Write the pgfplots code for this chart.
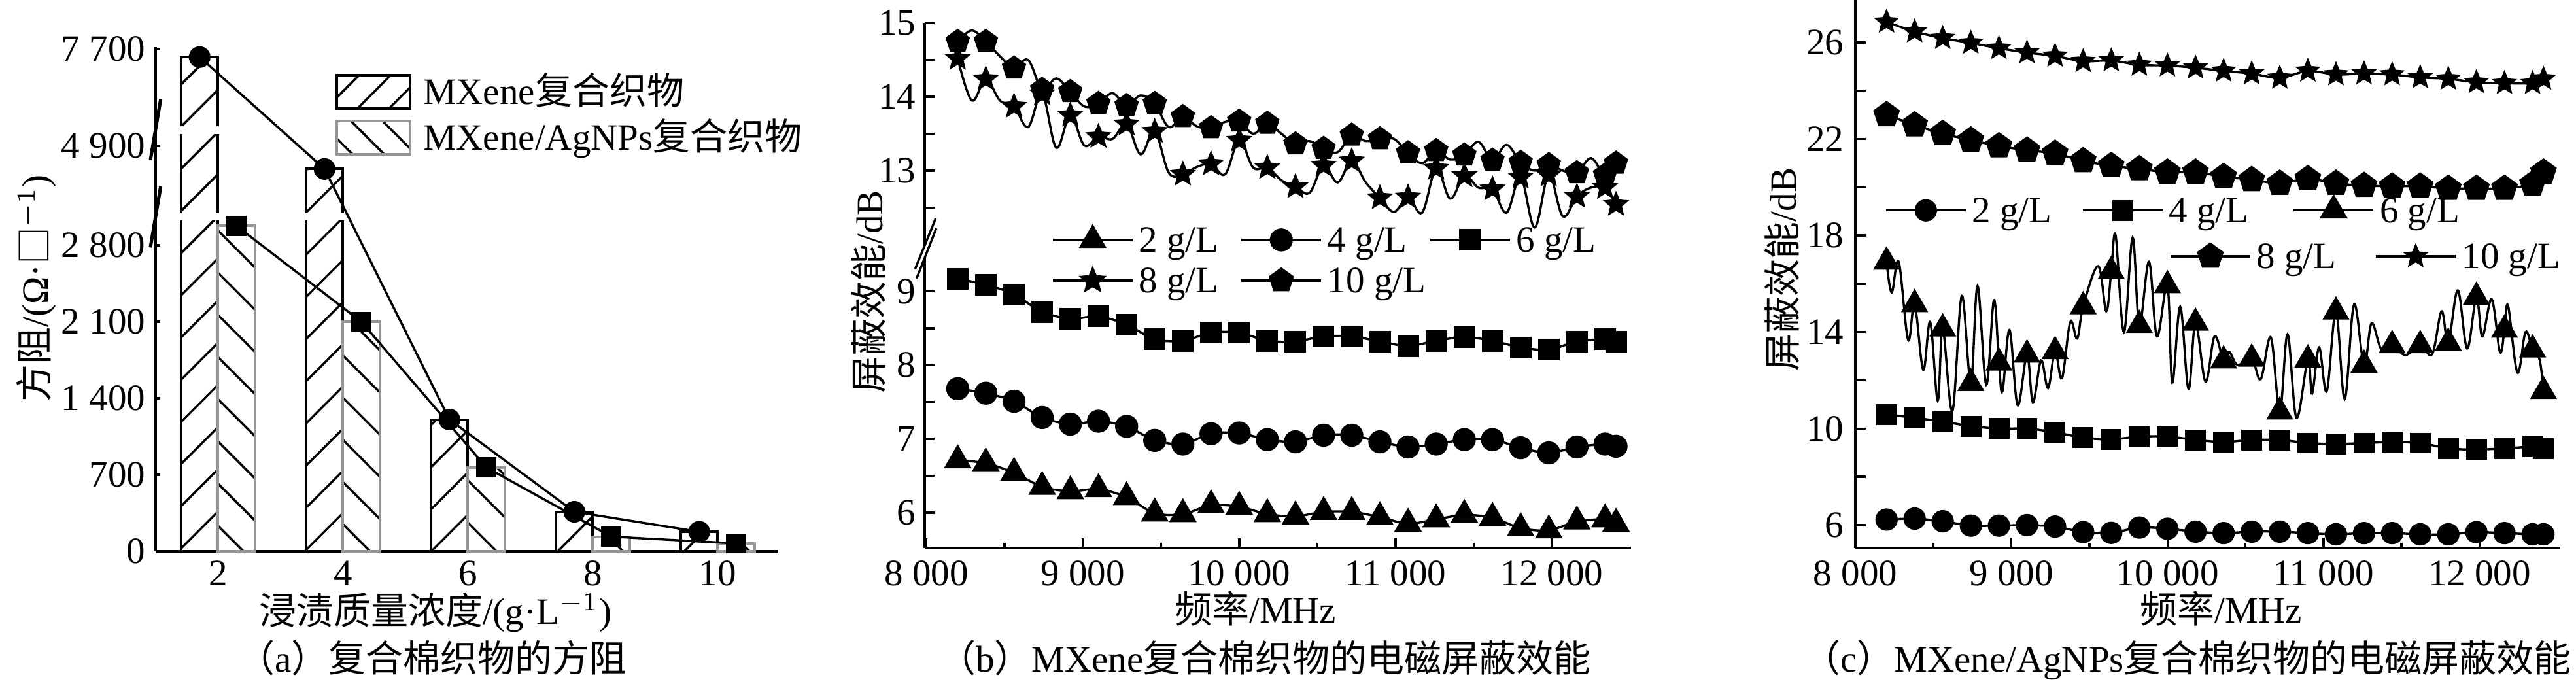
\documentclass[border=0pt]{standalone}
\usepackage{fontspec}
\setmainfont{Liberation Serif}
\newfontfamily\cjk{Noto Sans CJK SC}
\usepackage{pgfplots}
\usepackage{pgfplotstable}
\pgfplotsset{compat=1.18}
\usetikzlibrary{patterns.meta}
\definecolor{agray}{RGB}{150,150,150}

\pgfdeclareplotmark{fstar}{%
  \pgfpathmoveto{\pgfpointpolar{90}{\pgfplotmarksize}}%
  \pgfpathlineto{\pgfpointpolar{126}{0.45*\pgfplotmarksize}}%
  \pgfpathlineto{\pgfpointpolar{162}{\pgfplotmarksize}}%
  \pgfpathlineto{\pgfpointpolar{198}{0.45*\pgfplotmarksize}}%
  \pgfpathlineto{\pgfpointpolar{234}{\pgfplotmarksize}}%
  \pgfpathlineto{\pgfpointpolar{270}{0.45*\pgfplotmarksize}}%
  \pgfpathlineto{\pgfpointpolar{306}{\pgfplotmarksize}}%
  \pgfpathlineto{\pgfpointpolar{342}{0.45*\pgfplotmarksize}}%
  \pgfpathlineto{\pgfpointpolar{18}{\pgfplotmarksize}}%
  \pgfpathlineto{\pgfpointpolar{54}{0.45*\pgfplotmarksize}}%
  \pgfpathclose
  \pgfusepathqfillstroke
}

\pgfplotsset{
  every axis/.append style={scale only axis, axis x line*=bottom, axis y line*=left,
    axis line style={line width=0.6pt}, tick style={line width=0.6pt, black},
    tick align=inside, clip=false, scaled ticks=false, legend cell align=left},
  lineleg/.style={legend image code/.code={\draw[mark repeat=2,mark phase=2,##1] plot coordinates {(0pt,0pt) (10.7pt,0pt) (21.4pt,0pt)};}},
  legsty/.style={legend style={draw=none, fill=none, inner sep=0pt, row sep=3.1pt,
     nodes={inner sep=0pt, text height=0.72em, text depth=0.06em},
     /tikz/every odd column/.append style={column sep=1.4pt}}},
}

% panel (b): MXene fabrics, shielding (dB) at each marked frequency
\pgfplotstableread{
f s2 s4 s6 s8 s10
8200 6.71 7.68 9.17 14.52 14.75
8380 6.67 7.62 9.09 14.24 14.75
8560 6.54 7.51 8.96 13.87 14.39
8740 6.35 7.29 8.72 14.04 14.10
8920 6.29 7.20 8.63 13.75 14.07
9100 6.32 7.24 8.66 13.46 13.91
9280 6.21 7.17 8.55 13.63 13.88
9460 5.99 6.98 8.35 13.53 13.91
9640 5.98 6.93 8.33 12.95 13.73
9820 6.10 7.07 8.44 13.09 13.58
10000 6.08 7.08 8.44 13.41 13.67
10180 5.98 6.99 8.33 13.04 13.64
10360 5.95 6.96 8.32 12.78 13.36
10540 6.01 7.05 8.39 13.07 13.30
10720 6.01 7.05 8.39 13.13 13.48
10900 5.94 6.96 8.32 12.63 13.43
11080 5.85 6.89 8.26 12.64 13.24
11260 5.91 6.93 8.33 13.03 13.27
11440 5.97 6.99 8.38 12.93 13.21
11620 5.93 6.99 8.33 12.75 13.14
11800 5.79 6.88 8.24 12.91 13.11
11980 5.76 6.81 8.21 12.94 13.08
12160 5.88 6.89 8.32 12.65 12.97
12340 5.91 6.93 8.35 12.77 12.94
12410 5.85 6.90 8.32 12.54 13.10
}\tabB

% panel (b): measured traces of 8 and 10 g/L (with the swings between marks)
\pgfplotstableread{
f s8 s10
8200 14.52 14.75
8290 13.95 14.90
8380 14.24 14.75
8470 13.95 14.55
8560 13.87 14.39
8650 13.59 14.50
8740 14.04 14.10
8830 13.31 14.25
8920 13.75 14.07
9010 13.34 13.87
9100 13.46 13.91
9190 13.43 14.05
9280 13.63 13.88
9370 13.22 14.02
9460 13.53 13.91
9550 12.97 13.59
9640 12.95 13.73
9730 13.05 13.60
9820 13.09 13.58
9910 12.95 13.66
10000 13.41 13.67
10090 13.04 13.50
10180 13.04 13.64
10270 12.87 13.50
10360 12.78 13.36
10450 12.70 13.40
10540 13.07 13.30
10630 12.84 13.25
10720 13.13 13.48
10810 12.84 13.40
10900 12.63 13.43
10990 12.44 13.43
11080 12.64 13.24
11170 12.43 13.10
11260 13.03 13.27
11350 12.62 13.15
11440 12.93 13.21
11530 12.77 13.39
11620 12.75 13.14
11710 12.43 13.35
11800 12.91 13.11
11890 12.23 13.00
11980 12.94 13.08
12070 12.38 13.00
12160 12.65 12.97
12250 12.77 13.17
12340 12.77 12.94
12410 12.54 13.10
}\tabBline

% panel (c): MXene/AgNPs fabrics, shielding (dB) at each marked frequency
\pgfplotstableread{
f s2 s4 s6 s8 s10
8200 6.23 10.58 16.91 23.00 26.85
8380 6.27 10.45 15.15 22.58 26.45
8560 6.16 10.29 14.14 22.22 26.18
8740 5.98 10.10 11.88 21.95 25.98
8920 5.98 10.00 12.73 21.71 25.76
9100 6.00 10.00 13.06 21.53 25.58
9280 5.94 9.85 13.20 21.40 25.44
9460 5.71 9.62 15.06 21.09 25.22
9640 5.68 9.55 16.52 20.89 25.25
9820 5.90 9.67 14.29 20.76 25.07
10000 5.85 9.67 15.93 20.62 25.04
10180 5.73 9.53 14.38 20.62 24.95
10360 5.67 9.44 12.82 20.44 24.82
10540 5.73 9.53 12.89 20.31 24.71
10720 5.73 9.53 10.70 20.16 24.53
10900 5.67 9.40 12.86 20.35 24.82
11080 5.62 9.36 14.84 20.16 24.67
11260 5.67 9.40 12.64 20.07 24.71
11440 5.67 9.44 13.45 20.04 24.67
11620 5.62 9.40 13.45 20.04 24.55
11800 5.62 9.18 13.55 19.95 24.49
11980 5.71 9.13 15.45 19.95 24.35
12160 5.67 9.18 14.09 19.95 24.31
12340 5.62 9.25 13.27 20.13 24.31
12410 5.62 9.18 11.55 20.62 24.49
}\tabC

% panel (c): measured trace of 6 g/L
\pgfplotstableread{
f v
8200 16.91
8233 15.64
8278 16.91
8338 13.68
8380 15.15
8435 12.44
8480 14.41
8528 11.16
8560 14.14
8622 10.73
8682 15.50
8740 11.88
8783 15.91
8839 11.82
8888 15.32
8920 12.73
8943 11.55
8988 14.09
9040 10.97
9100 13.06
9138 11.09
9190 12.82
9235 11.68
9280 13.20
9324 12.09
9377 14.41
9422 13.73
9460 15.06
9556 16.73
9608 14.86
9640 16.52
9668 18.00
9721 14.00
9777 17.91
9820 14.29
9882 16.91
9933 13.82
10000 15.93
10031 11.91
10082 15.05
10135 11.64
10180 14.38
10244 11.95
10302 13.82
10360 12.82
10396 13.18
10449 12.64
10540 12.89
10598 12.05
10663 13.77
10720 10.70
10770 13.91
10827 10.45
10900 12.86
10927 11.45
10972 13.36
11021 11.55
11080 14.84
11136 11.23
11196 15.14
11260 12.64
11308 14.36
11370 13.30
11440 13.45
11525 13.05
11620 13.45
11697 13.09
11757 14.86
11800 13.55
11861 15.73
11921 13.32
11980 15.45
12018 13.82
12078 15.36
12131 13.18
12160 14.09
12183 15.09
12243 12.32
12295 14.00
12340 13.27
12385 12.86
12410 11.55
}\tabCsix

\begin{document}
\begin{tikzpicture}
\useasboundingbox (0,0) rectangle (691.05pt,184.39pt);

%================ (a) =================
\begin{axis}[at={(41.75pt,36.49pt)}, anchor=south west, width=167.02pt, height=135.32pt,
  xmin=1, xmax=10.97, ymin=0, ymax=4616,
  xtick={2,4,6,8,10}, xticklabels={2,4,6,8,10}, xtick style={draw=none},
  xticklabel style={inner sep=0pt, yshift=-2.4pt},
  ytick={0,700,1400,2100,2800,3710,4596},
  yticklabels={0,700,1~400,2~100,2~800,4~900,7~700},
  yticklabel style={inner sep=0pt, xshift=-2.6pt},
  major tick length=1.3pt,
  y filter/.expression={y>3300 ? 3710+(y-4900)*0.3166 : y},
  legend image code/.code={\draw[#1] (0pt,-4.45pt) rectangle (19.6pt,4.45pt);},
  legend style={at={(0.2878,0.8651)}, anchor=west, draw=none, fill=none, inner sep=0pt,
     row sep=2.8pt, nodes={inner sep=0pt, text height=0.72em, text depth=0.06em},
     /tikz/every odd column/.append style={column sep=3.3pt}},
]
\addplot[ybar, bar width=0.59, bar shift=-0.295, draw=black, line width=0.7pt,
  pattern={Lines[angle=45,distance=8pt,line width=0.6pt]}, pattern color=black, forget plot]
  coordinates {(2,7467) (4,4233) (6,1206) (8,362) (10,179)};
\addplot[ybar, bar width=0.59, bar shift=0.295, draw=agray, line width=0.7pt,
  pattern={Lines[angle=-45,distance=8pt,line width=0.6pt]}, pattern color=black, forget plot]
  coordinates {(2,2978) (4,2100) (6,768) (8,131) (10,72)};
\fill[white] (axis cs:1.395,3818) rectangle (axis cs:2.012,3890);
\fill[white] (axis cs:1.395,3028) rectangle (axis cs:2.012,3094);
\fill[white] (axis cs:3.395,3028) rectangle (axis cs:4.012,3094);
\addplot[black, line width=0.6pt, mark=*, mark size=2.6pt, forget plot]
  coordinates {(1.705,7467) (3.705,4233) (5.705,1206) (7.705,362) (9.705,179)};
\addplot[black, line width=0.6pt, mark=square*, mark size=2.4pt, forget plot]
  coordinates {(2.295,2978) (4.295,2100) (6.295,768) (8.295,135) (10.295,72)};
\draw[line width=0.9pt] (axis cs:0.916,3579) -- (axis cs:1.081,4137);
\draw[line width=0.9pt] (axis cs:0.916,2781) -- (axis cs:1.081,3339);
\addlegendimage{draw=black, line width=0.7pt, pattern={Lines[angle=45,distance=6pt,line width=0.6pt]}, pattern color=black}
\addlegendentry{MXene{\cjk 复合织物}}
\addlegendimage{draw=agray, line width=0.7pt, pattern={Lines[angle=-45,distance=6pt,line width=0.6pt]}, pattern color=black}
\addlegendentry{MXene/AgNPs{\cjk 复合织物}}
\end{axis}

%================ (b) =================
\begin{axis}[at={(248.07pt,37.37pt)}, anchor=south west, width=189.47pt, height=140.88pt,
  xmin=7989, xmax=12506, ymin=5.52, ymax=12.64,
  xtick={8000,9000,10000,11000,12000}, xticklabels={8~000,9~000,10~000,11~000,12~000},
  minor xtick={8500,9500,10500,11500},
  ytick={6,6.5,7,7.5,8,8.5,9,10.137,10.637,11.137,11.637,12.137,12.637},
  yticklabels={6,,7,,8,,9,,13,,14,,15},
  xticklabel style={inner sep=0pt, yshift=-3.3pt},
  yticklabel style={inner sep=0pt, xshift=-2.2pt},
  major tick length=2.6pt, minor tick length=1.4pt,
  y filter/.expression={y>10.5 ? y-2.363 : y},
  lineleg, legsty, legend columns=3,
  legend style={at={(0.1787,0.548)}, anchor=west},
]
\addplot[black, line width=0.6pt, smooth, tension=0.5, mark=triangle*, mark size=3.7pt, forget plot] table[x=f,y=s2] {\tabB};
\addplot[black, line width=0.6pt, smooth, tension=0.5, mark=*, mark size=2.8pt, forget plot] table[x=f,y=s4] {\tabB};
\addplot[black, line width=0.6pt, smooth, tension=0.5, mark=square*, mark size=2.6pt, forget plot] table[x=f,y=s6] {\tabB};
\addplot[black, line width=0.6pt, smooth, tension=0.6, forget plot] table[x=f,y=s8] {\tabBline};
\addplot[black, line width=0.6pt, smooth, tension=0.6, forget plot] table[x=f,y=s10] {\tabBline};
\addplot[black, only marks, mark=fstar, mark size=3.2pt, forget plot] table[x=f,y=s8] {\tabB};
\addplot[black, only marks, mark=pentagon*, mark size=3.2pt, forget plot] table[x=f,y=s10] {\tabB};
\fill[white] (axis cs:7927,9.301) -- (axis cs:8059,9.988) -- (axis cs:8063,9.855) -- (axis cs:7937,9.175) -- cycle;
\draw[line width=0.6pt] (axis cs:7927,9.301) -- (axis cs:8059,9.988);
\draw[line width=0.6pt] (axis cs:7937,9.175) -- (axis cs:8063,9.855);
\addlegendimage{black, line width=0.6pt, mark=triangle*, mark size=3.7pt}
\addlegendentry{\makebox[27.2pt][l]{2 g/L}}
\addlegendimage{black, line width=0.6pt, mark=*, mark size=2.8pt}
\addlegendentry{\makebox[27.2pt][l]{4 g/L}}
\addlegendimage{black, line width=0.6pt, mark=square*, mark size=2.6pt}
\addlegendentry{6 g/L}
\addlegendimage{black, line width=0.6pt, mark=fstar, mark size=3.2pt}
\addlegendentry{\makebox[27.2pt][l]{8 g/L}}
\addlegendimage{black, line width=0.6pt, mark=pentagon*, mark size=3.2pt}
\addlegendentry{\makebox[27.2pt][l]{10 g/L}}
\end{axis}

%================ (c) =================
\begin{axis}[at={(497.72pt,37.37pt)}, anchor=south west, width=189.12pt, height=147.02pt,
  xmin=8000, xmax=12518, ymin=5.05, ymax=27.76,
  xtick={8000,9000,10000,11000,12000}, xticklabels={8~000,9~000,10~000,11~000,12~000},
  minor xtick={8500,9500,10500,11500},
  ytick={6,8,...,26}, yticklabels={6,,10,,14,,18,,22,,26},
  xticklabel style={inner sep=0pt, yshift=-3.3pt},
  yticklabel style={inner sep=0pt, xshift=-2.9pt},
  major tick length=2.8pt, minor tick length=1.4pt,
  lineleg, legsty, legend columns=3,
  legend style={at={(0.0408,0.6161)}, anchor=west},
]
\addplot[black, line width=0.6pt, smooth, tension=0.5, mark=*, mark size=2.7pt, forget plot] table[x=f,y=s2] {\tabC};
\addplot[black, line width=0.6pt, smooth, tension=0.5, mark=square*, mark size=2.5pt, forget plot] table[x=f,y=s4] {\tabC};
\addplot[black, line width=0.6pt, smooth, tension=0.6, forget plot] table[x=f,y=v] {\tabCsix};
\addplot[black, only marks, mark=triangle*, mark size=3.8pt, forget plot] table[x=f,y=s6] {\tabC};
\addplot[black, line width=0.6pt, smooth, tension=0.5, mark=pentagon*, mark size=3.4pt, forget plot] table[x=f,y=s8] {\tabC};
\addplot[black, line width=0.6pt, smooth, tension=0.5, mark=fstar, mark size=2.8pt, forget plot] table[x=f,y=s10] {\tabC};
\addlegendimage{black, line width=0.6pt, mark=*, mark size=2.7pt}
\addlegendentry{\makebox[29.4pt][l]{2 g/L}}
\addlegendimage{black, line width=0.6pt, mark=square*, mark size=2.5pt}
\addlegendentry{\makebox[33.2pt][l]{4 g/L}}
\addlegendimage{black, line width=0.6pt, mark=triangle*, mark size=3.8pt}
\addlegendentry{6 g/L}
\end{axis}
\begin{axis}[at={(497.72pt,37.37pt)}, anchor=south west, width=189.12pt, height=147.02pt,
  hide axis, xmin=0, xmax=1, ymin=0, ymax=1,
  lineleg, legsty, legend columns=2,
  legend style={at={(0.4443,0.5322)}, anchor=west},
]
\addlegendimage{black, line width=0.6pt, mark=pentagon*, mark size=3.4pt}
\addlegendentry{\makebox[31.7pt][l]{8 g/L}}
\addlegendimage{black, line width=0.6pt, mark=fstar, mark size=2.8pt}
\addlegendentry{10 g/L}
\end{axis}

%================ labels & captions =================
\node[anchor=base, inner sep=0pt] at (116.8pt,17.0pt) {{\cjk 浸渍质量浓度}/(g·L$^{-1}$)};
\node[anchor=base, inner sep=0pt] at (116.0pt,4.1pt) {{\cjk （}a{\cjk ）复合棉织物的方阻}};
\node[rotate=90, inner sep=0pt] at (9.8pt,107.0pt) {{\cjk 方阻}/(Ω·{\cjk □}$^{-1}$)};

\node[anchor=base, inner sep=0pt] at (336.8pt,17.37pt) {{\cjk 频率}/MHz};
\node[anchor=base, inner sep=0pt] at (339.3pt,4.1pt) {{\cjk （}b{\cjk ）}MXene{\cjk 复合棉织物的电磁屏蔽效能}};
\node[rotate=90, inner sep=0pt] at (233.0pt,106.1pt) {{\cjk 屏蔽效能}/dB};

\node[anchor=base, inner sep=0pt] at (595.8pt,17.37pt) {{\cjk 频率}/MHz};
\node[anchor=base east, inner sep=0pt] at (690.0pt,4.1pt) {{\cjk （}c{\cjk ）}MXene/AgNPs{\cjk 复合棉织物的电磁屏蔽效能}};
\node[rotate=90, inner sep=0pt] at (478.1pt,112.1pt) {{\cjk 屏蔽效能}/dB};
\end{tikzpicture}
\end{document}
